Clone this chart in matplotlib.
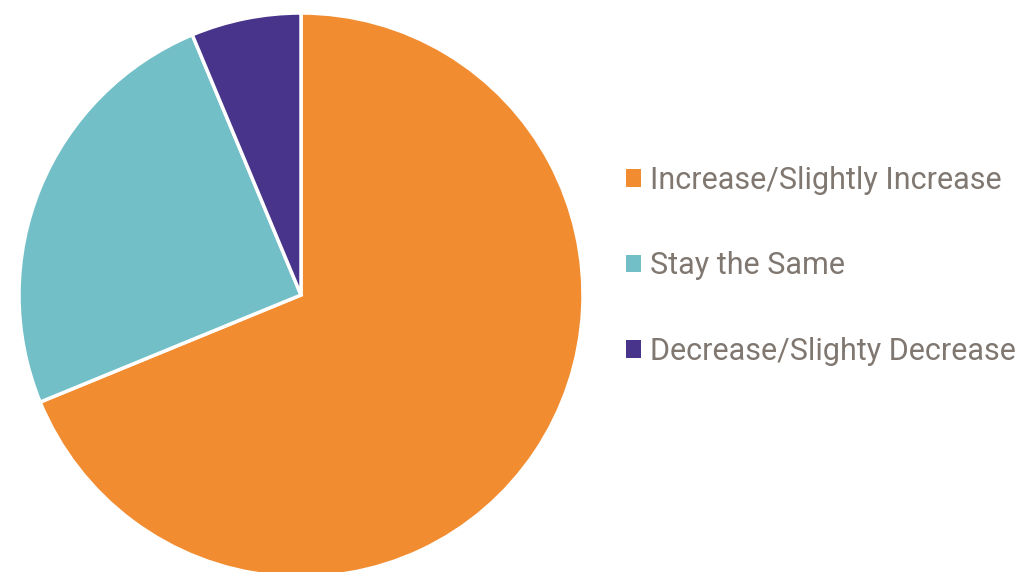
import matplotlib
matplotlib.use("Agg")
import matplotlib.pyplot as plt
from matplotlib.patches import Patch

categories = ["Increase/Slightly Increase", "Stay the Same", "Decrease/Slighty Decrease"]
values = [68.8, 24.9, 6.3]
colors = ["#F28C30", "#72BFC8", "#48348A"]

fig = plt.figure(figsize=(10.29, 5.72), dpi=100)
ax = fig.add_axes([19/1029, (572-577)/572, 564/1029, 564/572])
ax.pie(values, colors=colors, startangle=90, counterclock=False,
       wedgeprops=dict(edgecolor="white", linewidth=2.5))
ax.set_xlim(-1, 1)
ax.set_ylim(-1, 1)
ax.set_aspect("equal")

handles = [Patch(facecolor=c, edgecolor="none") for c in colors]
leg = fig.legend(handles, categories, loc="center left", bbox_to_anchor=(598/1029, 1 - 266/572),
                 frameon=False, handlelength=0.5, handleheight=0.5, handletextpad=0.3,
                 labelspacing=1.85, prop=dict(family="Roboto", weight="normal", size=22))
for t in leg.get_texts():
    t.set_color("#7F7770")

fig.savefig("out.png", dpi=100)
